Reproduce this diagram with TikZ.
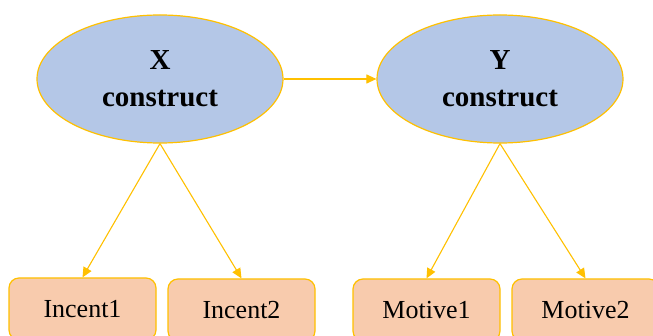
\documentclass[tikz,border=0pt]{standalone}
\usepackage{fontspec}
\setmainfont{Liberation Serif}
\usetikzlibrary{shapes.geometric,arrows.meta}
\definecolor{gold}{HTML}{FFC000}
\definecolor{latentfill}{HTML}{B4C7E7}
\definecolor{itemfill}{HTML}{F8CBAD}
\begin{document}
\begin{tikzpicture}[x=1pt,y=-1pt,
  latent/.style={ellipse, draw=gold, fill=latentfill, line width=1.2pt,
    minimum width=246pt, minimum height=128pt, inner sep=0pt, align=center,
    font=\fontsize{29}{37}\selectfont\bfseries},
  item/.style={rectangle, rounded corners=10pt, draw=gold, fill=itemfill,
    line width=1.2pt, minimum width=147pt, minimum height=62pt, inner sep=0pt,
    font=\fontsize{26}{30}\selectfont},
  link/.style={draw=gold, line width=1.1pt, -{Triangle[length=10pt,width=9pt]}}]
\useasboundingbox (0,0) rectangle (653,336);
\clip (0,0) rectangle (653,336);
\node[latent] (X) at (160,79) {X\\construct};
\node[latent] (Y) at (500,79) {Y\\construct};
\node[item] (I1) at (82.5,309) {Incent1};
\node[item] (I2) at (241.5,310) {Incent2};
\node[item] (M1) at (426.5,310) {Motive1};
\node[item] (M2) at (585.5,310) {Motive2};
\draw[link] (X.east) -- (Y.west);
\draw[link] (X.south) -- (I1.north);
\draw[link] (X.south) -- (I2.north);
\draw[link] (Y.south) -- (M1.north);
\draw[link] (Y.south) -- (M2.north);
\end{tikzpicture}
\end{document}
